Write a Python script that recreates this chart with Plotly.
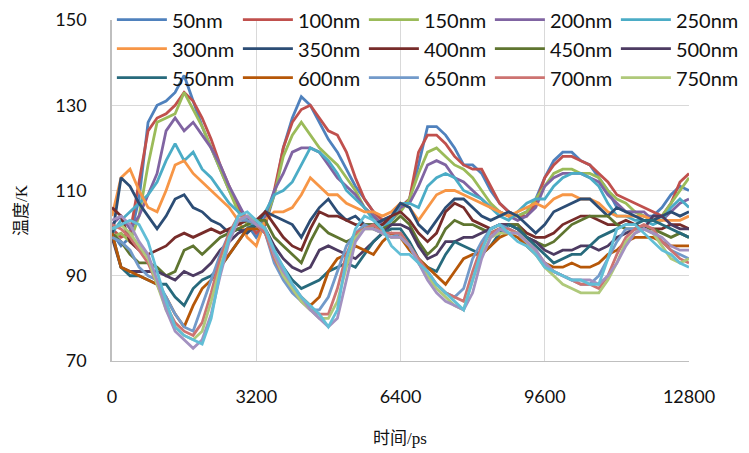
import plotly.graph_objects as go

time_ps = list(range(0, 12801, 200))

names = ["50nm", "100nm", "150nm", "200nm", "250nm", "300nm", "350nm", "400nm",
         "450nm", "500nm", "550nm", "600nm", "650nm", "700nm", "750nm", "800nm", "850nm"]

t50 = [100, 97, 99, 108, 126, 130, 131, 133, 137, 131, 125, 120, 115, 110, 106, 102,
       99, 102, 109, 120, 127, 132, 130, 126, 122, 119, 115, 111, 108, 105, 103, 104,
       106, 108, 116, 125, 125, 123, 120, 116, 116, 114, 110, 107, 105, 104, 105, 108,
       113, 117, 119, 119, 117, 116, 113, 110, 106, 105, 105, 104, 104, 106, 109, 111, 110]
t100 = [101, 99, 100, 112, 124, 127, 128, 130, 133, 131, 127, 122, 116, 111, 106, 103,
        100, 102, 110, 120, 126, 129, 130, 127, 124, 123, 119, 113, 108, 105, 103, 104,
        106, 108, 119, 123, 123, 121, 118, 116, 115, 115, 111, 107, 105, 104, 104, 107,
        113, 116, 118, 118, 117, 116, 114, 112, 109, 108, 107, 106, 105, 104, 107, 112, 114]
t150 = [99, 100, 98, 104, 116, 126, 127, 128, 133, 129, 125, 120, 115, 110, 105, 102,
        101, 103, 109, 118, 123, 126, 123, 120, 118, 116, 113, 110, 106, 104, 102, 103,
        105, 108, 114, 119, 120, 118, 116, 115, 113, 110, 107, 105, 104, 104, 105, 108,
        111, 114, 115, 115, 114, 114, 113, 110, 108, 107, 105, 104, 103, 104, 107, 110, 113]
t200 = [102, 104, 101, 104, 109, 114, 124, 127, 124, 126, 123, 120, 116, 111, 107, 103,
        101, 104, 110, 114, 119, 120, 120, 119, 116, 113, 111, 109, 106, 104, 102, 103,
        106, 107, 111, 116, 117, 116, 113, 112, 110, 108, 106, 105, 104, 103, 104, 106,
        111, 113, 114, 114, 114, 113, 112, 109, 107, 105, 105, 105, 103, 103, 105, 107, 108]
t250 = [100, 103, 105, 107, 109, 112, 117, 121, 117, 119, 115, 113, 110, 107, 105, 103,
        101, 105, 109, 110, 112, 116, 120, 119, 117, 114, 110, 108, 106, 103, 101, 103,
        107, 107, 106, 111, 113, 114, 113, 110, 109, 108, 106, 104, 103, 105, 107, 108,
        108, 111, 113, 114, 114, 113, 111, 107, 104, 104, 103, 103, 102, 103, 106, 108, 106]
t300 = [104, 113, 115, 110, 106, 105, 110, 116, 117, 114, 112, 110, 108, 106, 103, 99,
        97, 103, 105, 105, 106, 109, 113, 111, 109, 109, 107, 106, 105, 105, 104, 105,
        107, 106, 103, 106, 109, 110, 110, 109, 108, 107, 106, 105, 104, 105, 106, 107,
        106, 108, 109, 109, 108, 108, 107, 105, 104, 104, 104, 104, 103, 103, 103, 103, 104]
t350 = [99, 113, 111, 107, 104, 101, 104, 108, 109, 106, 105, 103, 102, 100, 101, 100,
        102, 105, 104, 103, 102, 99, 103, 106, 108, 105, 103, 104, 102, 102, 103, 104,
        107, 106, 102, 100, 103, 106, 108, 108, 106, 104, 103, 104, 105, 104, 102, 100,
        102, 105, 106, 107, 108, 108, 106, 104, 106, 105, 104, 103, 103, 104, 105, 104, 105]
t400 = [106, 104, 98, 96, 95, 96, 97, 99, 100, 99, 100, 101, 100, 101, 102, 103,
        103, 105, 102, 99, 97, 96, 101, 105, 104, 104, 103, 102, 102, 101, 102, 104,
        105, 103, 100, 98, 100, 105, 107, 106, 103, 102, 101, 102, 102, 102, 100, 99,
        99, 100, 102, 103, 104, 104, 103, 102, 102, 103, 102, 101, 101, 101, 102, 102, 101]
t450 = [100, 98, 95, 93, 93, 92, 90, 91, 96, 97, 95, 97, 99, 100, 101, 102,
        103, 103, 99, 97, 95, 93, 98, 102, 100, 99, 98, 99, 102, 102, 101, 102,
        104, 102, 98, 95, 97, 101, 103, 102, 102, 101, 100, 101, 102, 102, 99, 98,
        97, 98, 100, 102, 103, 104, 104, 104, 102, 101, 101, 101, 101, 100, 99, 100, 99]
t500 = [99, 92, 91, 91, 91, 91, 90, 89, 91, 90, 91, 93, 96, 98, 100, 101,
        102, 101, 97, 94, 92, 91, 92, 96, 97, 96, 95, 94, 96, 98, 100, 102,
        102, 101, 97, 94, 95, 98, 98, 99, 99, 100, 101, 102, 102, 101, 99, 98,
        96, 95, 96, 96, 97, 97, 96, 97, 99, 100, 101, 101, 104, 104, 102, 101, 101]
t550 = [100, 92, 90, 90, 89, 88, 88, 85, 83, 87, 89, 90, 92, 95, 98, 101,
        102, 100, 95, 92, 89, 87, 88, 89, 91, 92, 93, 92, 95, 98, 100, 101,
        101, 98, 94, 92, 91, 95, 98, 97, 96, 95, 97, 100, 102, 101, 99, 97,
        95, 93, 94, 95, 95, 97, 99, 100, 101, 102, 102, 103, 103, 102, 101, 100, 99]
t600 = [100, 92, 91, 90, 89, 88, 85, 81, 78, 83, 87, 89, 92, 95, 98, 101,
        101, 101, 94, 90, 87, 85, 83, 85, 91, 94, 95, 97, 96, 95, 98, 100,
        99, 96, 94, 92, 90, 88, 91, 94, 95, 95, 97, 99, 100, 99, 97, 95,
        93, 92, 92, 93, 92, 92, 93, 95, 96, 98, 99, 99, 99, 98, 97, 97, 97]
t650 = [99, 98, 96, 92, 90, 89, 85, 81, 78, 77, 83, 89, 95, 100, 103, 103,
        102, 100, 93, 89, 86, 84, 82, 82, 85, 91, 97, 100, 102, 101, 100, 99,
        100, 97, 93, 90, 88, 86, 85, 87, 94, 98, 101, 102, 101, 100, 98, 95,
        93, 91, 90, 89, 88, 88, 90, 94, 98, 101, 101, 101, 100, 98, 96, 95, 94]
t700 = [102, 101, 99, 96, 93, 88, 83, 79, 77, 76, 79, 86, 94, 100, 104, 104,
        102, 100, 94, 90, 87, 84, 82, 81, 81, 87, 95, 100, 101, 102, 100, 100,
        100, 97, 94, 91, 88, 86, 85, 84, 91, 97, 100, 101, 101, 100, 98, 96,
        93, 91, 90, 89, 88, 88, 87, 90, 95, 99, 101, 102, 101, 98, 96, 94, 93]
t750 = [101, 102, 100, 97, 94, 88, 82, 78, 76, 75, 77, 84, 92, 99, 103, 104,
        103, 101, 95, 90, 87, 84, 82, 80, 80, 84, 92, 99, 101, 101, 100, 99,
        99, 97, 93, 90, 87, 85, 83, 82, 89, 95, 99, 100, 100, 100, 98, 95,
        92, 90, 88, 87, 86, 86, 86, 89, 93, 98, 100, 101, 100, 97, 94, 93, 94]
t800 = [103, 104, 102, 98, 95, 89, 82, 77, 75, 73, 75, 81, 90, 98, 103, 104,
        102, 101, 95, 91, 88, 85, 82, 80, 78, 80, 89, 98, 101, 101, 100, 99,
        99, 97, 93, 89, 86, 84, 83, 82, 86, 94, 99, 101, 100, 100, 98, 96,
        93, 91, 90, 89, 89, 89, 88, 90, 93, 97, 100, 101, 100, 99, 97, 96, 96]
t850 = [101, 102, 103, 102, 98, 91, 84, 78, 76, 75, 74, 80, 91, 99, 104, 105,
        103, 101, 96, 92, 88, 85, 83, 81, 78, 82, 94, 101, 104, 103, 101, 97,
        95, 95, 93, 91, 88, 86, 84, 82, 89, 96, 101, 102, 100, 98, 97, 95,
        92, 91, 90, 89, 89, 88, 88, 94, 101, 102, 102, 100, 98, 96, 95, 93, 92]

series = [t50, t100, t150, t200, t250, t300, t350, t400, t450, t500,
          t550, t600, t650, t700, t750, t800, t850]
colors = ["#4F81BD", "#C0504D", "#9BBB59", "#8064A2", "#4BACC6", "#F79646",
          "#2C4D75", "#772C2A", "#5F7530", "#4D3B62", "#276A7C", "#B65708",
          "#729ACA", "#CD7371", "#AFC97A", "#A391C0", "#62BED6"]
in_legend = [True] * 15 + [False, False]

x_ticks = [0, 3200, 6400, 9600, 12800]
y_ticks = [70, 90, 110, 130, 150]

fig = go.Figure()
for name, vals, col, leg in zip(names, series, colors, in_legend):
    fig.add_trace(go.Scatter(x=time_ps[:len(vals)], y=vals, mode="lines", name=name,
                             line=dict(color=col, width=2.8), showlegend=leg))

tick_font = dict(family="Lato, Liberation Sans, sans-serif", size=18, color="#111111")
title_font = dict(family="Liberation Serif, Noto Sans CJK SC, serif", size=17, color="#111111")

# the page body adds an 8px offset, so the figure is 8px smaller and margins shifted
fig.update_layout(
    width=741, height=445,
    margin=dict(l=104, r=60, t=12, b=92, autoexpand=False),
    paper_bgcolor="white", plot_bgcolor="white",
    xaxis=dict(range=[0, 12800], tickvals=x_ticks, ticktext=[str(v) for v in x_ticks],
               showgrid=True, gridcolor="#D9D9D9", gridwidth=1,
               showline=True, linecolor="#BFBFBF", linewidth=1, zeroline=False,
               ticks="", tickfont=tick_font, ticklabelstandoff=19),
    yaxis=dict(range=[70, 150], tickvals=y_ticks, ticktext=[str(v) for v in y_ticks],
               showgrid=True, gridcolor="#D9D9D9", gridwidth=1,
               showline=True, linecolor="#BFBFBF", linewidth=1.5, zeroline=False,
               ticks="", tickfont=tick_font, ticklabelstandoff=20),
    legend=dict(orientation="h", x=-0.0002, xanchor="left", y=1.058, yanchor="top",
                font=dict(family="Lato, Liberation Sans, sans-serif", size=20, color="#111111"),
                bgcolor="rgba(0,0,0,0)", entrywidth=61, entrywidthmode="pixels",
                itemwidth=50, tracegroupgap=0),
    annotations=[
        dict(text="时间/ps", xref="paper", yref="paper", x=0.499, y=-0.226,
             xanchor="center", yanchor="middle", showarrow=False, font=title_font),
        dict(text="温度/K", xref="paper", yref="paper", x=-0.156, y=0.443,
             xanchor="center", yanchor="middle", showarrow=False, textangle=-90,
             font=title_font),
    ],
    showlegend=True,
)

fig.write_html("out.html")
